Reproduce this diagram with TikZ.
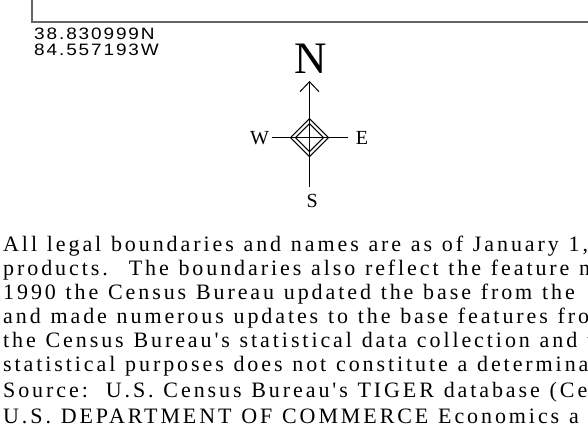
\documentclass[tikz,border=0pt]{standalone}
\usepackage{fontspec}
\setmainfont{Liberation Serif}
\newfontfamily\bodyfont[LetterSpace=13.25]{Liberation Serif}
\newfontfamily\coordfont[LetterSpace=10]{Liberation Sans}
\newcommand\bodysetup{\bodyfont\fontsize{22}{24}\selectfont\spaceskip 9.75pt plus 0pt minus 0pt\relax}
\definecolor{framegray}{gray}{0.4}
\tikzset{
  bodyline/.style={anchor=base west, inner sep=0pt, font={\bodysetup}},
  coordline/.style={anchor=base west, inner sep=0pt, font={\coordfont\fontsize{16.5}{16}\selectfont}},
  compassletter/.style={anchor=base, inner sep=0pt, font={\fontsize{20}{20}\selectfont}},
  compassline/.style={line width=1pt, black},
  frameline/.style={line width=1.2pt, framegray}
}
\begin{document}
\begin{tikzpicture}[x=1pt,y=-1pt]
\useasboundingbox (0,0) rectangle (588,443);
\clip (0,0) rectangle (588,443);
% frame of the map
\coordinate (ftop) at (32,-2);
\coordinate (fcorner) at (32,22);
\coordinate (fright) at (592,22);
\draw[frameline] (ftop) -- (fcorner) -- (fright);
% coordinates
\node[coordline] (lat) at (34,39.5) {\scalebox{1.15}[1]{38.830999N}};
\node[coordline] (lon) at (34,55.5) {\scalebox{1.15}[1]{84.557193W}};
% compass
\coordinate (C) at (309.5,137.7);
\node[anchor=base, inner sep=0pt, font={\fontsize{45}{45}\selectfont}] (N) at (310.8,73.3) {N};
\coordinate (tip) at (309.5,81.7);
\coordinate (al) at (300,91.7);
\coordinate (ar) at (319,91.7);
\coordinate (bot) at (309.5,186.7);
\coordinate (wl) at (271.7,137.7);
\coordinate (er) at (348.3,137.7);
\draw[compassline] (tip) -- (bot);
\draw[compassline] (al) -- (tip) -- (ar);
\draw[compassline] (wl) -- (er);
\draw[compassline] (C) +(-19,0) -- +(0,-19) -- +(19,0) -- +(0,19) -- cycle;
\draw[compassline] (C) +(-14,0) -- +(0,-14) -- +(14,0) -- +(0,14) -- cycle;
\node[compassletter] (W) at (259.5,145) {W};
\node[compassletter] (E) at (362,145) {E};
\node[compassletter] (S) at (312.3,208) {S};
% notes
\node[bodyline] (l1) at (3,251.5) {All legal boundaries and names are as of January 1,};
\node[bodyline] (l2) at (3,275.5) {products.\hspace{21pt}The boundaries also reflect the feature n};
\node[bodyline] (l3) at (3,299.5) {1990 the Census Bureau updated the base from the};
\node[bodyline] (l4) at (3,323.5) {and made numerous updates to the base features fro};
\node[bodyline] (l5) at (3,347.5) {the Census Bureau's statistical data collection and t};
\node[bodyline] (l6) at (3,371.5) {statistical purposes does not constitute a determina};
\node[bodyline] (l7) at (3,397.5) {Source:\hspace{18pt}U.S. Census Bureau's TIGER database (Ce};
\node[bodyline] (l8) at (3,423) {U.S. DEPARTMENT OF COMMERCE Economics a};
\end{tikzpicture}
\end{document}
